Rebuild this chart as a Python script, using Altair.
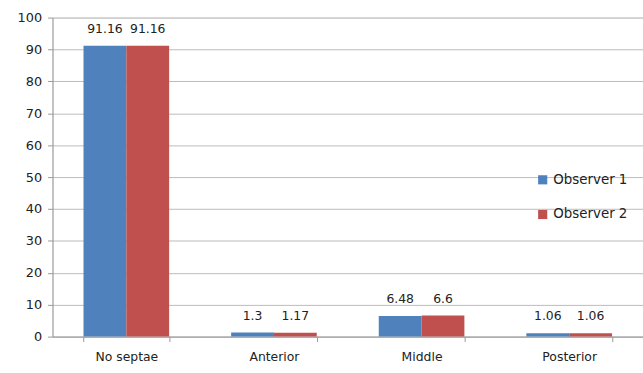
import altair as alt
import pandas as pd

categories = ["No septae", "Anterior", "Middle", "Posterior"]
observer1 = [91.16, 1.3, 6.48, 1.06]
observer2 = [91.16, 1.17, 6.6, 1.06]
series = ["Observer 1", "Observer 2"]
colors = ["#4F81BD", "#C0504D"]

rows = []
for c, a, b in zip(categories, observer1, observer2):
    rows.append({"cat": c, "obs": series[0], "val": a})
    rows.append({"cat": c, "obs": series[1], "val": b})
df = pd.DataFrame(rows)

FONT = "DejaVu Sans"

x = alt.X("cat:N", sort=categories, title=None,
          scale=alt.Scale(paddingInner=0.42, paddingOuter=0.21),
          axis=alt.Axis(labelAngle=0, labelFontSize=12.5, labelFont=FONT, labelColor="#222",
                        labelPadding=9, tickBand="extent", tickSize=5,
                        domainColor="#999", tickColor="#999"))
y = alt.Y("val:Q", title=None,
          scale=alt.Scale(domain=[0, 100]),
          axis=alt.Axis(values=list(range(0, 101, 10)), labelFontSize=13, labelFont=FONT,
                        labelColor="#222", tickSize=5, labelPadding=6,
                        gridColor="#BBBBBB", domainColor="#999", tickColor="#999"))
xo = alt.XOffset("obs:N", sort=series)

bars = alt.Chart(df).mark_bar().encode(
    x=x, y=y, xOffset=xo,
    color=alt.Color("obs:N", sort=series, title=None,
                    scale=alt.Scale(domain=series, range=colors),
                    legend=alt.Legend(orient="none", legendX=488, legendY=157,
                                      symbolType="square", symbolSize=85,
                                      symbolStrokeWidth=0,
                                      labelFontSize=13.5, labelFont=FONT, labelColor="#222",
                                      rowPadding=20, labelOffset=4)),
)

labels = alt.Chart(df).mark_text(dy=-10, fontSize=12.5, font=FONT, color="#222",
                                 baseline="bottom").encode(
    x=x, y=y, xOffset=xo, text=alt.Text("val:Q"),
)

chart = (bars + labels).properties(
    width=596, height=322,
    padding={"left": 53, "top": 16, "right": 0, "bottom": 35},
    autosize=alt.AutoSizeParams(type="none"),
).configure_view(stroke=None).configure(background="white")

chart.save("out.html", embed_options={"renderer": "svg", "actions": False})
